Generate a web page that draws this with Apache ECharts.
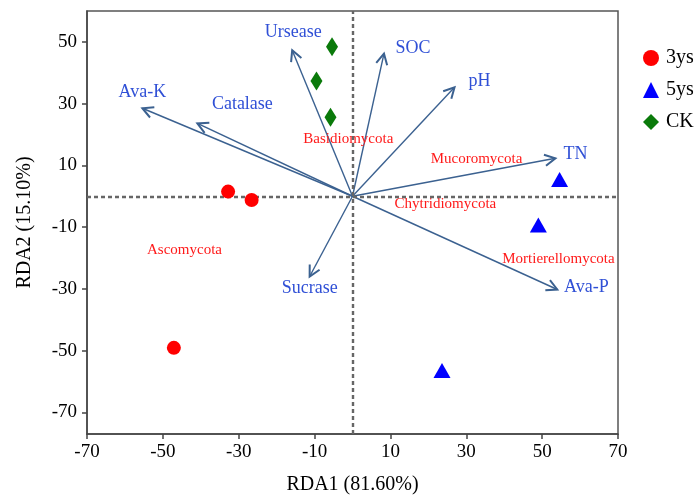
<!DOCTYPE html>
<html>
<head>
<meta charset="utf-8">
<script src="https://cdn.jsdelivr.net/npm/echarts@6/dist/echarts.min.js"></script>
<style>html,body{margin:0;padding:0;background:#fff}#c{width:696px;height:495px}</style>
</head>
<body>
<div id="c"></div>
<script>
// ---- data ----
var xTicks = [-70, -50, -30, -10, 10, 30, 50, 70];
var yTicks = [-70, -50, -30, -10, 10, 30, 50];
var pts3ys = [[-32.8, 1.5], [-26.6, -1.2], [-47.1, -49.1]];
var pts5ys = [[54.6, 5.4], [49.0, -9.3], [23.6, -56.4]];
var ptsCK = [[-5.4, 48.4], [-9.5, 37.3], [-5.8, 25.6]];
var envNames = ['Ava-K', 'Catalase', 'Ursease', 'SOC', 'pH', 'TN', 'Ava-P', 'Sucrase'];
var envX = [-55.4, -40.9, -15.9, 8.3, 26.9, 53.5, 54.0, -11.3];
var envY = [28.5, 23.6, 47.3, 46.2, 35.3, 12.3, -30.2, -26.0];
var sppNames = ['Basidiomycota', 'Mucoromycota', 'Chytridiomycota', 'Ascomycota', 'Mortierellomycota'];
var sppX = [-1.1, 32.7, 24.5, -44.3, 54.3];
var sppY = [18.6, 12.2, -2.5, -17.5, -20.5];

// ---- styles (pixel offsets of env labels from arrow tips) ----
var envLabelOffsets = [[0, -16], [45, -19], [1, -18], [29, -5], [25, -6], [20, -4], [29, -2], [0, 12]];
var SERIF = '"Liberation Serif", "Times New Roman", serif';
var arrowColor = '#3b6190';
var envTextColor = '#3050d6';
var sppTextColor = '#ff1a1a';

var envData = envNames.map(function (n, i) { return [envX[i], envY[i]]; });
var sppData = sppNames.map(function (n, i) { return [sppX[i], sppY[i]]; });

function renderArrow(params, api) {
  var i = params.dataIndex;
  var p0 = api.coord([0, 0]);
  var p1 = api.coord([api.value(0), api.value(1)]);
  var ang = Math.atan2(p1[1] - p0[1], p1[0] - p0[0]);
  var L = 12, a = Math.PI / 6.5;
  var h1 = [p1[0] - L * Math.cos(ang - a), p1[1] - L * Math.sin(ang - a)];
  var h2 = [p1[0] - L * Math.cos(ang + a), p1[1] - L * Math.sin(ang + a)];
  var off = envLabelOffsets[i];
  return {
    type: 'group',
    children: [
      { type: 'line', shape: { x1: p0[0], y1: p0[1], x2: p1[0], y2: p1[1] },
        style: { stroke: arrowColor, lineWidth: 1.4 } },
      { type: 'polyline', shape: { points: [h1, p1, h2] },
        style: { stroke: arrowColor, lineWidth: 2, fill: null } },
      { type: 'text', x: p1[0] + off[0], y: p1[1] + off[1],
        style: { text: envNames[i], fill: envTextColor, fontSize: 18, fontFamily: SERIF,
                 align: 'center', verticalAlign: 'middle' } }
    ]
  };
}

function renderSpp(params, api) {
  var i = params.dataIndex;
  var p = api.coord([api.value(0), api.value(1)]);
  return { type: 'text', x: p[0], y: p[1],
    style: { text: sppNames[i], fill: sppTextColor, fontSize: 15, fontFamily: SERIF,
             align: 'center', verticalAlign: 'middle' } };
}

var chart = echarts.init(document.getElementById('c'), null, { renderer: 'canvas' });
var axisCommon = {
  type: 'value',
  splitLine: { show: false },
  axisLine: { show: true, onZero: false, lineStyle: { color: '#444', width: 1.5 } },
  axisTick: { show: true, length: 5, lineStyle: { color: '#444', width: 1.5 } },
  axisLabel: { color: '#000', fontSize: 19, fontFamily: SERIF },
  nameTextStyle: { color: '#000', fontSize: 20, fontFamily: SERIF }
};
chart.setOption({
  animation: false,
  grid: { left: 87, top: 11, right: 78, bottom: 61, show: true, borderColor: '#555', borderWidth: 1.5,
          containLabel: false, outerBoundsMode: 'none' },
  legend: {
    orient: 'vertical', left: 638, top: 43, itemWidth: 16, itemHeight: 16, itemGap: 12,
    textStyle: { color: '#000', fontSize: 20, fontFamily: SERIF, padding: [0, 0, 0, 2] },
    data: ['3ys', '5ys', 'CK']
  },
  xAxis: Object.assign({}, axisCommon, {
    min: -70, max: 70, interval: 20,
    name: 'RDA1 (81.60%)', nameLocation: 'middle', nameGap: 41,
    axisTick: Object.assign({}, axisCommon.axisTick, { customValues: xTicks }),
    axisLabel: Object.assign({}, axisCommon.axisLabel, { customValues: xTicks, margin: 9 })
  }),
  yAxis: Object.assign({}, axisCommon, {
    min: -77, max: 60,
    name: 'RDA2 (15.10%)', nameLocation: 'middle', nameGap: 52,
    axisTick: Object.assign({}, axisCommon.axisTick, { customValues: yTicks }),
    axisLabel: Object.assign({}, axisCommon.axisLabel, { customValues: yTicks, margin: 10 })
  }),
  series: [
    { name: 'guides', type: 'scatter', data: [], silent: true,
      markLine: { silent: true, symbol: 'none', label: { show: false },
        lineStyle: { color: '#666', type: [4, 3], width: 2.4 },
        data: [{ xAxis: 0 }, { yAxis: 0 }] } },
    { name: 'arrows', type: 'custom', renderItem: renderArrow, data: envData, silent: true, z: 3 },
    { name: 'species', type: 'custom', renderItem: renderSpp, data: sppData, silent: true, z: 4 },
    { name: '3ys', type: 'scatter', symbol: 'circle', symbolSize: 14, data: pts3ys,
      itemStyle: { color: '#ff0000', opacity: 1 }, z: 5 },
    { name: '5ys', type: 'scatter', symbol: 'triangle', symbolSize: [17, 15], data: pts5ys,
      itemStyle: { color: '#0000ff', opacity: 1 }, z: 5 },
    { name: 'CK', type: 'scatter', symbol: 'diamond', symbolSize: [12, 19], data: ptsCK,
      itemStyle: { color: '#0a7a0a', opacity: 1 }, z: 5 }
  ]
});
</script>
</body>
</html>
